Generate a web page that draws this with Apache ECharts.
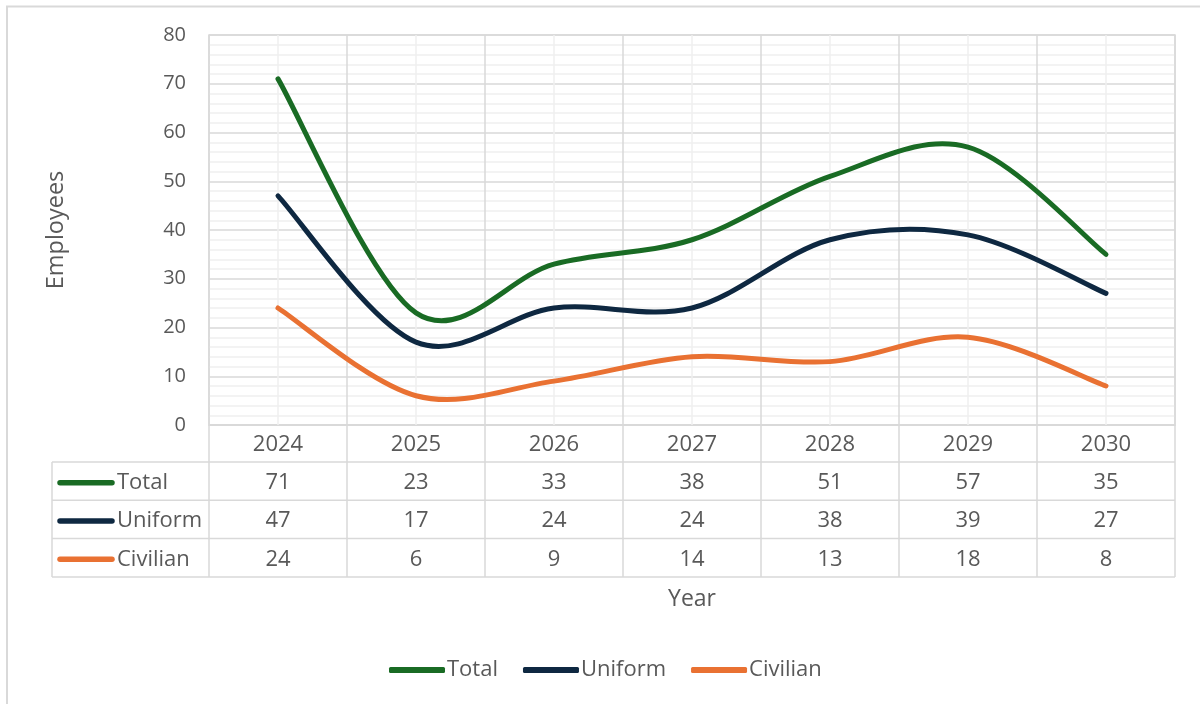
<!DOCTYPE html>
<html><head><meta charset="utf-8">
<script src="https://cdn.jsdelivr.net/npm/echarts@6/dist/echarts.min.js"></script>
<style>html,body{margin:0;padding:0;background:#fff}#c{width:1200px;height:704px}</style>
</head><body><div id="c"></div>
<script>
const years = ['2024','2025','2026','2027','2028','2029','2030'];
const seriesNames = ['Total','Uniform','Civilian'];
const totalValues = [71,23,33,38,51,57,35];
const uniformValues = [47,17,24,24,38,39,27];
const civilianValues = [24,6,9,14,13,18,8];
const yMin = 0, yMax = 80, yStep = 10;

const FONT = '"Open Sans", "Liberation Sans", sans-serif';
const TXT = '#595959';
const GRID_C = '#d9d9d9';
const MINOR_C = '#efefef';
const colors = ['#196B24','#0E2841','#E97132'];
const seriesValues = [totalValues, uniformValues, civilianValues];

const chart = echarts.init(document.getElementById('c'), null, {renderer:'canvas'});

// Smooth curve (Catmull-Rom style, like a spreadsheet smoothed line) through points mapped by the axes
function makeRender(values, color){
  return function(params, api){
    if (params.dataIndex !== 0) return null;
    const P = values.map((v,j)=>api.coord([j, v]));
    const n = P.length;
    const at = k => P[Math.max(0, Math.min(n-1, k))];
    let d = 'M' + P[0][0] + ' ' + P[0][1];
    for (let i=0;i<n-1;i++){
      const p0 = at(i-1), p1 = at(i), p2 = at(i+1), p3 = at(i+2);
      const c1x = p1[0] + (p2[0]-p0[0])/6, c1y = p1[1] + (p2[1]-p0[1])/6;
      const c2x = p2[0] - (p3[0]-p1[0])/6, c2y = p2[1] - (p3[1]-p1[1])/6;
      d += ' C' + c1x + ' ' + c1y + ' ' + c2x + ' ' + c2y + ' ' + p2[0] + ' ' + p2[1];
    }
    return {type:'path', shape:{pathData:d}, style:{fill:'none', stroke:color, lineWidth:5, lineCap:'round', lineJoin:'round'}, silent:true};
  };
}

const series = seriesNames.map((n,i)=>({
  name:n, type:'custom', coordinateSystem:'cartesian2d',
  data: seriesValues[i].map((v,j)=>[j, v]), encode:{x:0, y:1},
  renderItem: makeRender(seriesValues[i], colors[i]),
  itemStyle:{color:colors[i]}, z:4
}));
series.push({
  type:'line', data:[], z:1, silent:true,
  markLine:{silent:true, z:1, symbol:['none','none'], label:{show:false},
    lineStyle:{color:MINOR_C, type:'solid', width:1.5},
    data: years.map(y=>({xAxis:y}))}
});

chart.setOption({
  animation:false,
  textStyle:{fontFamily:FONT},
  grid:{left:209,right:25,top:35,bottom:279, show:true, borderColor:GRID_C, borderWidth:1.5, containLabel:false},
  legend:{
    data:seriesNames, left:384, top:654, itemGap:25, itemWidth:56, itemHeight:6, icon:'roundRect',
    textStyle:{color:TXT, fontSize:22, fontFamily:FONT, padding:[0,0,0,-3]}
  },
  xAxis:{
    type:'category', data:years, boundaryGap:true,
    axisLine:{show:true, lineStyle:{color:GRID_C, width:1.5}},
    axisTick:{show:true, length:37, lineStyle:{color:GRID_C, width:1.5}},
    axisLabel:{color:TXT, fontSize:22, fontFamily:FONT, margin:9},
    splitLine:{show:true, lineStyle:{color:GRID_C, width:1.5}},
    name:'Year', nameLocation:'middle', nameGap:163,
    nameTextStyle:{color:TXT, fontSize:23, fontFamily:FONT}
  },
  yAxis:{
    type:'value', min:yMin, max:yMax, interval:yStep,
    axisLine:{show:false}, axisTick:{show:false},
    axisLabel:{color:TXT, fontSize:20, fontFamily:FONT, margin:23},
    splitLine:{show:true, lineStyle:{color:GRID_C, width:1.5}},
    minorTick:{show:false, splitNumber:5},
    minorSplitLine:{show:true, lineStyle:{color:MINOR_C, width:1.5}},
    name:'Employees', nameLocation:'middle', nameGap:141, nameRotate:90,
    nameTextStyle:{color:TXT, fontSize:23.5, fontFamily:FONT}
  },
  series:series
});

// Data table built from axis scales
const xs = years.map(y=>chart.convertToPixel({xAxisIndex:0}, y));
const colW = xs[1]-xs[0];
const axisY = chart.convertToPixel({yAxisIndex:0}, yMin);
const gridL = xs[0]-colW/2, gridR = xs[xs.length-1]+colW/2;
const tableL = gridL - 157;
const headerH = 37, rowH = 38.3;
const rowTop = axisY + headerH;
const g = [];
g.push({type:'rect', shape:{x:7,y:6.5,width:1400,height:1000}, style:{fill:'none', stroke:GRID_C, lineWidth:2}, silent:true});
for (let r=0;r<=seriesNames.length;r++){
  const y = rowTop + r*rowH;
  g.push({type:'line', shape:{x1:tableL,y1:y,x2:gridR,y2:y}, style:{stroke:GRID_C, lineWidth:1.5}, silent:true});
}
const rowBottom = rowTop + seriesNames.length*rowH;
g.push({type:'line', shape:{x1:tableL,y1:rowTop,x2:tableL,y2:rowBottom}, style:{stroke:GRID_C, lineWidth:1.5}, silent:true});
for (let k=0;k<=years.length;k++){
  const x = gridL + k*colW;
  g.push({type:'line', shape:{x1:x,y1:rowTop,x2:x,y2:rowBottom}, style:{stroke:GRID_C, lineWidth:1.5}, silent:true});
}
seriesNames.forEach((n,i)=>{
  const cy = rowTop + (i+0.5)*rowH + 1.5;
  g.push({type:'line', shape:{x1:tableL+8,y1:cy,x2:tableL+60,y2:cy}, style:{stroke:colors[i], lineWidth:5.5, lineCap:'round'}, silent:true});
  g.push({type:'text', x:tableL+65, y:cy, style:{text:n, fill:TXT, font:'22px '+FONT, textAlign:'left', textVerticalAlign:'middle'}, silent:true});
  seriesValues[i].forEach((v,j)=>{
    g.push({type:'text', x:xs[j], y:cy, style:{text:String(v), fill:TXT, font:'22px '+FONT, textAlign:'center', textVerticalAlign:'middle'}, silent:true});
  });
});
chart.setOption({graphic:g});
</script>
</body></html>
